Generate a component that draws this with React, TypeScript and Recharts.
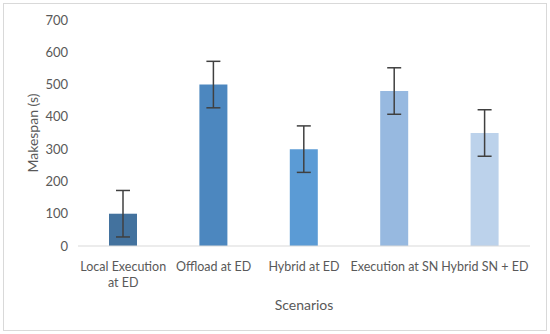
import React from "react";
import { Bar, BarChart, Cell, ErrorBar, Text, XAxis, YAxis } from "recharts";

const scenarios = [
  "Local Execution at ED",
  "Offload at ED",
  "Hybrid at ED",
  "Execution at SN",
  "Hybrid SN + ED",
];
const makespan = [100, 500, 300, 480, 350];
const makespanErr = [72, 72, 72, 72, 72];
const yTicks = [0, 100, 200, 300, 400, 500, 600, 700];
const barColors = ["#43729e", "#4c87bf", "#5b9bd5", "#97b9e0", "#bcd2eb"];

const data = scenarios.map((name, i) => ({
  name,
  value: makespan[i],
  err: makespanErr[i],
}));

const FONT = "Lato, 'Open Sans', sans-serif";

function ScenarioTick(props: any) {
  const { x, y, payload } = props;
  return (
    <Text
      x={x}
      y={y}
      width={90}
      textAnchor="middle"
      verticalAnchor="start"
      lineHeight={16}
      fill="#595959"
      style={{ fontSize: "12.5px", fontFamily: FONT }}
    >
      {payload.value}
    </Text>
  );
}

export default function App() {
  return (
    <div
      style={{
        position: "fixed",
        left: 0,
        top: 0,
        width: 550,
        height: 334,
        background: "#fff",
      }}
    >
      <div
        style={{
          position: "absolute",
          left: 3,
          top: 3,
          width: 542,
          height: 326,
          border: "1px solid #d9d9d9",
        }}
      />
      <BarChart
        width={550}
        height={334}
        data={data}
        margin={{ top: 20, right: 20, left: 0, bottom: 0 }}
        style={{ position: "absolute", left: 0, top: 0 }}
      >
        <XAxis
          dataKey="name"
          height={88}
          interval={0}
          tickLine={false}
          axisLine={{ stroke: "#d9d9d9" }}
          tickMargin={10}
          tick={(p: any) => <ScenarioTick {...p} />}
          label={{
            value: "Scenarios",
            position: "insideBottom",
            offset: 24,
            fill: "#595959",
            fontSize: 14,
            fontFamily: FONT,
          }}
        />
        <YAxis
          width={78}
          domain={[0, 700]}
          ticks={yTicks}
          axisLine={false}
          tickLine={false}
          tickSize={0}
          tickMargin={10}
          tick={{ fill: "#595959", fontSize: 13, fontFamily: FONT }}
          label={{
            value: "Makespan (s)",
            angle: -90,
            position: "center",
            dx: -6,
            fill: "#595959",
            fontSize: 14,
            fontFamily: FONT,
          }}
        />
        <Bar dataKey="value" barSize={28} isAnimationActive={false}>
          {data.map((d, i) => (
            <Cell key={d.name} fill={barColors[i]} />
          ))}
          <ErrorBar
            dataKey="err"
            width={7}
            stroke="#404040"
            strokeWidth={1.5}
            isAnimationActive={false}
          />
        </Bar>
      </BarChart>
    </div>
  );
}
